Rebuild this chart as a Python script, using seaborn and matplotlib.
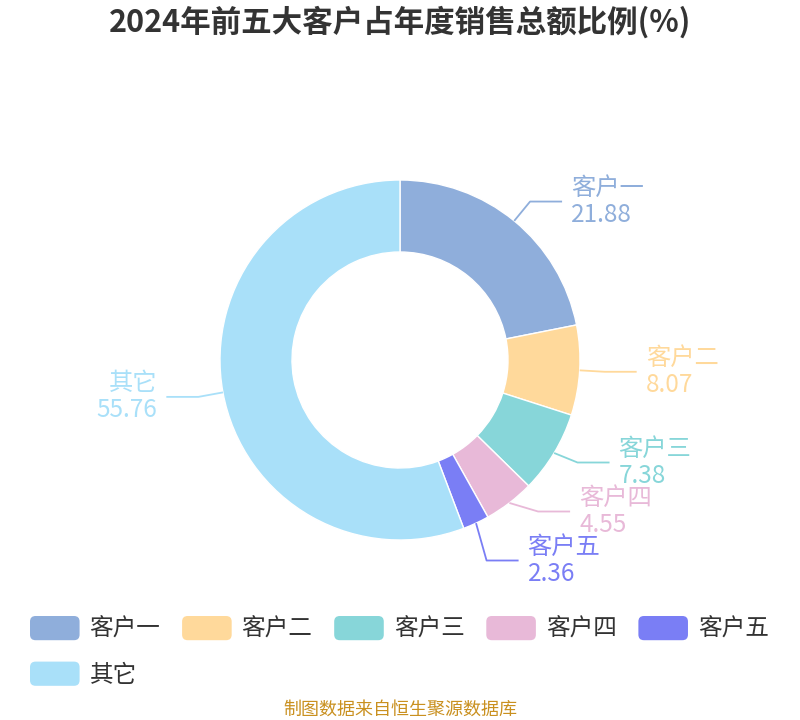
import numpy as np
import matplotlib
matplotlib.use("Agg")
import matplotlib.pyplot as plt
import seaborn as sns
from matplotlib.patches import Patch, FancyBboxPatch
from matplotlib.legend_handler import HandlerPatch

# data
names = ["客户一", "客户二", "客户三", "客户四", "客户五", "其它"]
shares = [21.88, 8.07, 7.38, 4.55, 2.36, 55.76]
colors = ["#8FAEDB", "#FFD99B", "#87D6D9", "#E8B9D8", "#7A7EF5", "#A9E0F9"]

sns.set_theme(style="white")
plt.rcParams["font.family"] = ["Noto Sans CJK SC", "DejaVu Sans"]

fig = plt.figure(figsize=(8, 7.2), dpi=100)
ax = fig.add_axes([0, 0, 1, 1])

wedges, _ = ax.pie(shares, colors=colors, radius=1, startangle=90, counterclock=False,
                   wedgeprops=dict(width=0.4, edgecolor="white", linewidth=1))

# outer radius = 180px, centre of the ring at (400, 360) px
px = 1 / 180
ax.set_xlim(-400 * px, 400 * px)
ax.set_ylim(-360 * px, 360 * px)
ax.axis("off")

# label layout: elbow on a ring just outside the pie, spread labels that collide
rr = 1 + 25 * px
gap = 49 * px
labels = []
for w, name, val, c in zip(wedges, names, shares, colors):
    ang = np.deg2rad((w.theta1 + w.theta2) / 2)
    ex, ey = np.cos(ang), np.sin(ang)
    labels.append(dict(name=name, val=val, c=c, ex=ex, ey=ey,
                       nx=rr * ex, y=rr * ey, side=1 if ex >= 0 else -1))

for side in (1, -1):
    grp = sorted([l for l in labels if l["side"] == side], key=lambda l: -l["y"])
    for _ in range(60):
        for a, b in zip(grp[:-1], grp[1:]):
            d = a["y"] - b["y"]
            if d < gap:
                push = (gap - d) / 2
                a["y"] += push
                b["y"] -= push

for l in labels:
    s = l["side"]
    y = l["y"]
    bx = s * max(np.sqrt(max(rr ** 2 - y ** 2, 0)), abs(l["nx"]))
    endx = bx + s * 32 * px
    ax.plot([l["ex"], bx, endx], [l["ey"], y, y], color=l["c"], lw=1.3, solid_capstyle="butt")
    tx = endx + s * 9 * px
    ha = "left" if s > 0 else "right"
    ax.text(tx, y, f"{l['name']}\n{l['val']:.2f}", color=l["c"], fontsize=17.5,
            ha=ha, va="center", multialignment=ha, linespacing=1.05)


class RoundBox(HandlerPatch):
    def create_artists(self, legend, orig_handle, xdescent, ydescent, width, height, fontsize, trans):
        p = FancyBboxPatch((-xdescent, -ydescent), width, height,
                           boxstyle="round,pad=0,rounding_size=4",
                           facecolor=orig_handle.get_facecolor(), edgecolor="none", transform=trans)
        return [p]


# legend is filled column by column, so order the handles to read row by row
order = [0, 5, 1, 2, 3, 4]
handles = [Patch(facecolor=colors[i], label=names[i]) for i in order]
fig.legend(handles=handles, ncol=5, loc="upper left", bbox_to_anchor=(30 / 800, 1 - 616 / 720),
           frameon=False, fontsize=17, labelcolor="#333333", borderpad=0, borderaxespad=0,
           handlelength=2.1, handleheight=1.2, handletextpad=0.42, columnspacing=0.92,
           labelspacing=0.87, handler_map={Patch: RoundBox()})

fig.text(0.5, 1 - 22 / 720, "2024年前五大客户占年度销售总额比例(%)", ha="center", va="center",
         fontsize=22, fontweight="bold", color="#333333")
fig.text(0.5, 1 - 710 / 720, "制图数据来自恒生聚源数据库", ha="center", va="center",
         fontsize=13, color="#C9901F")

fig.savefig("out.png", dpi=100)
